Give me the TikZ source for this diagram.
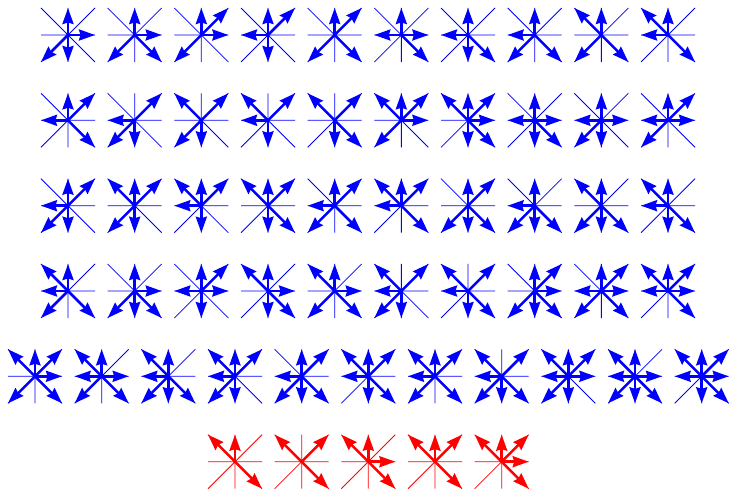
\documentclass[tikz,border=0pt]{standalone}
\usetikzlibrary{arrows.meta}
\definecolor{starblue}{RGB}{0,0,255}
\definecolor{starred}{RGB}{255,0,0}
\tikzset{
  x=1pt,y=1pt,
  thinray/.style={line width=0.8pt},
  thickray/.style={line width=2.5pt,-{Stealth[length=16pt,width=11pt,inset=1.5pt]}},
}
\newcommand\starglyph[4]{%
  \edef\starlist{#4}%
  \pgfmathsetmacro\starx{#1}%
  \pgfmathsetmacro\stary{491-#2}%
  \begin{scope}[shift={(\starx,\stary)},color=#3]
    \coordinate (E) at (27,0);
    \coordinate (NE) at (27,27);
    \coordinate (N) at (0,27);
    \coordinate (NW) at (-27,27);
    \coordinate (W) at (-27,0);
    \coordinate (SW) at (-27,-27);
    \coordinate (S) at (0,-27);
    \coordinate (SE) at (27,-27);
    \coordinate (C) at (0,0);
    \draw[thinray] (W) -- (E) (S) -- (N) (SW) -- (NE) (NW) -- (SE);
    \foreach \d in \starlist {\draw[thickray] (C) -- (\d);}
  \end{scope}}
\begin{document}
\begin{tikzpicture}
\useasboundingbox (0,0) rectangle (732,491);
% row 1
\foreach \arr [count=\i] in {{N,E,SW,S},{N,E,SW,SE},{N,NE,E,SW},{N,NE,W,S},{N,NE,SW,SE},{N,W,E,SE},{N,W,S,SE},{N,W,SW,SE},{NW,N,SW,SE},{NW,N,W,SE}}
  {\starglyph{68+66.67*(\i-1)}{35}{starblue}{\arr}}
% row 2
\foreach \arr [count=\i] in {{N,NE,W,SE},{NE,W,SW,S},{NW,NE,SW,S},{NW,NE,W,S},{NW,NE,S,SE},{NW,N,NE,E,SW},{NW,N,NE,E,S,SE},{N,W,E,S,SE},{N,W,E,SW,S},{N,NE,W,E,SW}}
  {\starglyph{68+66.67*(\i-1)}{120.3}{starblue}{\arr}}
% row 3
\foreach \arr [count=\i] in {{N,NE,W,SW,S},{NW,N,NE,SW,S},{NW,N,NE,W,S},{NW,N,NE,S,SE},{N,NE,W,SW,SE},{NW,N,NE,W,SE},{N,NE,SW,S,SE},{N,W,SW,S,SE},{NW,N,SW,S,SE},{NW,N,W,S,SE}}
  {\starglyph{68+66.67*(\i-1)}{205.7}{starblue}{\arr}}
% row 4
\foreach \arr [count=\i] in {{NW,N,W,SW,SE},{N,E,SW,S,SE},{N,NE,W,E,S},{NW,N,E,S,SE},{NW,N,E,SW,SE},{NW,NE,W,SW,S},{NW,NE,W,S,SE},{N,NE,E,SW,S,SE},{N,NE,W,E,SW,SE},{NW,N,NE,W,E,SE}}
  {\starglyph{68+66.67*(\i-1)}{291}{starblue}{\arr}}
% row 5
\foreach \arr [count=\i] in {{NW,N,NE,E,SW,SE},{NW,N,W,E,SW,SE},{NW,N,W,SW,S,SE},{NW,N,NE,W,SW,S},{N,NE,W,SW,S,SE},{NW,N,NE,W,S,SE},{NW,N,NE,W,SW,SE},{NW,NE,W,SW,S,SE},{NW,N,NE,W,E,SW,S},{NW,N,W,E,SW,S,SE},{NW,N,NE,W,E,S,SE}}
  {\starglyph{35+66.67*(\i-1)}{376.3}{starblue}{\arr}}
% row 6
\foreach \arr [count=\i] in {{NW,N,SE},{NW,NE,SE},{NW,N,E,SE},{NW,N,NE,SE},{NW,N,NE,E,SE}}
  {\starglyph{235+66.67*(\i-1)}{461.7}{starred}{\arr}}
\end{tikzpicture}
\end{document}
